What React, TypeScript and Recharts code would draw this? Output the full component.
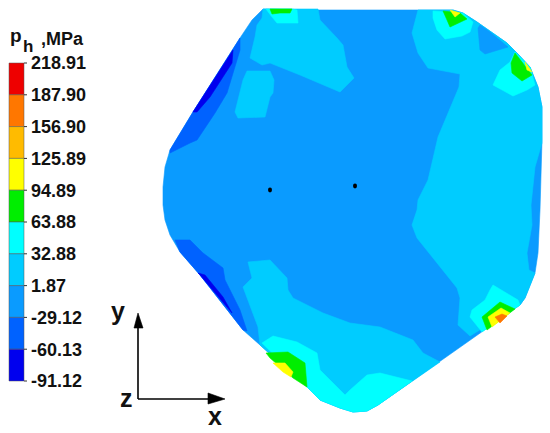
import React from "react";
import {
  Bar,
  BarChart,
  Cell,
  Scatter,
  ScatterChart,
  XAxis,
  YAxis,
} from "recharts";

type Pt = [number, number];

const WIDTH = 550;
const HEIGHT = 433;
const FONT = "Liberation Sans, Arial, sans-serif";

// colour bar
const levels = [218.91, 187.9, 156.9, 125.89, 94.89, 63.88, 32.88, 1.87, -29.12, -60.13, -91.12];
const bandColors = [
  "#ee0000", "#ff7700", "#ffbb00", "#ffff00", "#00ee00",
  "#00ffff", "#00ccff", "#0a9bff", "#0062ff", "#0000ee",
];
const bands = bandColors.map((_, i) => ({ x: 0.5, range: [levels[i + 1], levels[i]] }));

const ORANGE = bandColors[1];
const YELLOW = bandColors[3];
const GREEN = bandColors[4];
const CYAN = bandColors[5];
const SKY = bandColors[6];
const BASE = bandColors[7];
const BLUE = bandColors[8];
const NAVY = bandColors[9];

// contour regions
const outline: Pt[] = [
  [263, 9], [300, 10], [453, 10], [463, 13], [477, 22], [507, 43], [517, 53], [530, 67],
  [538, 87], [542, 107], [542, 140], [540, 210], [538, 253], [535, 273], [525, 298], [520, 305],
  [378, 405], [367, 411], [353, 412], [340, 408], [320, 400], [307, 387], [260, 345], [243, 330],
  [200, 275], [180, 252], [170, 235], [165, 220], [163, 205], [163, 187], [165, 167], [170, 150],
  [193, 112], [240, 38], [252, 20],
];
const skyTopLeft: Pt[] = [
  [263, 9], [318, 9], [320, 20], [337, 38], [343, 45], [347, 67], [354, 78], [340, 92],
  [300, 75], [270, 63], [262, 65], [250, 58], [255, 37], [257, 25], [262, 18],
];
const skyIsland: Pt[] = [
  [247, 71], [270, 71], [274, 80], [273, 93], [270, 97], [265, 117], [238, 118], [235, 112], [243, 80],
];
const skyRight: Pt[] = [
  [418, 10], [453, 10], [463, 13], [477, 22], [507, 43], [517, 53], [530, 67], [538, 87],
  [542, 107], [542, 143], [535, 167], [531, 205], [532, 225], [527, 253], [529, 270], [535, 273],
  [525, 298], [520, 305], [470, 336], [458, 325], [460, 298], [457, 288], [417, 238], [412, 225],
  [417, 210], [418, 200], [428, 180], [438, 137], [459, 87], [460, 74], [428, 68], [418, 53], [412, 33],
];
const baseNotch: Pt[] = [
  [478, 28], [480, 50], [485, 54], [508, 47], [490, 32], [480, 25],
];
const skyBottom: Pt[] = [
  [248, 262], [270, 260], [287, 278], [288, 290], [293, 298], [323, 313], [350, 323], [380, 327],
  [413, 340], [423, 353], [440, 362], [378, 405], [367, 411], [353, 412], [340, 408], [320, 400],
  [307, 387], [260, 345], [258, 327], [243, 287], [252, 278],
];
const blueUpper: Pt[] = [
  [240, 38], [240, 50], [227, 93], [215, 113], [197, 140], [190, 143], [170, 153], [170, 150], [193, 112],
];
const navyUpper: Pt[] = [
  [193, 112], [233, 50], [232, 63], [210, 97], [197, 112],
];
const blueLower: Pt[] = [
  [175, 240], [190, 240], [203, 253], [223, 268], [225, 280], [240, 310], [247, 331], [243, 330], [200, 275], [180, 252],
];
const navyLower: Pt[] = [
  [198, 273], [205, 275], [223, 297], [232, 313], [200, 275],
];
const cyanTop: Pt[] = [
  [266, 9], [292, 9], [297, 10], [298, 23], [277, 23], [272, 17],
];
const greenTop: Pt[] = [
  [270, 9], [292, 9], [290, 13], [280, 13], [272, 14],
];
const cyanTopRight: Pt[] = [
  [433, 11], [463, 13], [473, 22], [470, 32], [462, 36], [445, 39], [437, 30], [433, 18],
];
const greenTopRight: Pt[] = [
  [443, 11], [460, 13], [467, 19], [450, 27], [447, 20],
];
const yellowTopRight: Pt[] = [
  [450, 10], [460, 13], [455, 17],
];
const cyanCorner: Pt[] = [
  [515, 52], [530, 67], [535, 85], [527, 90], [513, 96], [493, 85], [500, 70], [510, 62],
];
const greenCorner: Pt[] = [
  [515, 53], [532, 75], [522, 81], [512, 73], [511, 63],
];
const yellowCorner: Pt[] = [
  [525, 62], [532, 72], [527, 70],
];
const cyanLowerRight: Pt[] = [
  [493, 285], [518, 300], [520, 305], [482, 332], [470, 317], [472, 310], [485, 300], [490, 290],
];
const greenLowerRight: Pt[] = [
  [482, 317], [500, 302], [515, 309], [487, 330],
];
const yellowLowerRight: Pt[] = [
  [488, 317], [501, 308], [510, 313], [492, 327],
];
const orangeLowerRight: Pt[] = [
  [495, 317], [502, 314], [507, 316], [500, 323],
];
const cyanBottom: Pt[] = [
  [262, 343], [273, 336], [297, 342], [317, 353], [320, 370], [345, 395], [350, 390], [367, 375],
  [380, 373], [412, 381], [378, 405], [367, 411], [353, 412], [340, 408], [320, 400], [307, 387],
];
const greenBottom: Pt[] = [
  [266, 353], [288, 352], [305, 363], [307, 387], [293, 378], [270, 358],
];
const yellowBottom: Pt[] = [
  [273, 363], [285, 363], [293, 372], [291, 377], [283, 372],
];
const holes: Pt[] = [[270, 190], [355, 186]];

// axis triad
const triadY: Pt[] = [[138, 399], [138, 320]];
const triadX: Pt[] = [[138, 399], [215, 399]];
const arrowY: Pt[] = [[138, 313], [143, 328], [134, 328]];
const arrowX: Pt[] = [[225, 399], [208, 393], [208, 404]];

const regions: [Pt[], string][] = [
  [outline, BASE],
  [skyRight, SKY],
  [skyTopLeft, SKY],
  [skyIsland, SKY],
  [skyBottom, SKY],
  [baseNotch, BASE],
  [blueUpper, BLUE],
  [navyUpper, NAVY],
  [blueLower, BLUE],
  [navyLower, NAVY],
  [cyanTop, CYAN],
  [greenTop, GREEN],
  [cyanTopRight, CYAN],
  [greenTopRight, GREEN],
  [yellowTopRight, YELLOW],
  [cyanCorner, CYAN],
  [greenCorner, GREEN],
  [yellowCorner, YELLOW],
  [cyanLowerRight, CYAN],
  [greenLowerRight, GREEN],
  [yellowLowerRight, YELLOW],
  [orangeLowerRight, ORANGE],
  [cyanBottom, CYAN],
  [greenBottom, GREEN],
  [yellowBottom, YELLOW],
  [arrowY, "#000"],
  [arrowX, "#000"],
];

const toData = (pts: Pt[]) => pts.map(([x, y]) => ({ x, y }));

const polygon = (fill: string) => (props: any) => (
  <polygon
    points={props.points.map((p: any) => `${p.x},${p.y}`).join(" ")}
    fill={fill}
    stroke={fill}
    strokeWidth={0.6}
    strokeLinejoin="round"
  />
);

const noMark = () => <g />;

const Label = ({ x, y, size = 18, children }: any) => (
  <div
    style={{
      position: "absolute",
      left: x,
      top: y,
      fontFamily: FONT,
      fontWeight: 700,
      fontSize: size,
      lineHeight: 1,
      color: "#111",
    }}
  >
    {children}
  </div>
);

export default function App() {
  return (
    <div style={{ position: "absolute", left: 0, top: 0, width: WIDTH, height: HEIGHT, background: "#fff", overflow: "hidden" }}>
      <div style={{ position: "absolute", left: 0, top: 0 }}>
        <ScatterChart width={WIDTH} height={HEIGHT} margin={{ top: 0, right: 0, bottom: 0, left: 0 }}>
          <XAxis type="number" dataKey="x" domain={[0, WIDTH]} hide />
          <YAxis type="number" dataKey="y" domain={[0, HEIGHT]} reversed hide />
          {regions.map(([pts, color], i) => (
            <Scatter
              key={i}
              data={toData(pts)}
              line={polygon(color)}
              shape={noMark}
              isAnimationActive={false}
            />
          ))}
          <Scatter
            data={toData(triadY)}
            line={{ stroke: "#000", strokeWidth: 1.6 }}
            shape={noMark}
            isAnimationActive={false}
          />
          <Scatter
            data={toData(triadX)}
            line={{ stroke: "#000", strokeWidth: 1.6 }}
            shape={noMark}
            isAnimationActive={false}
          />
          <Scatter
            data={toData(holes)}
            shape={(p: any) => <ellipse cx={p.cx} cy={p.cy} rx={2} ry={2.4} fill="#000" />}
            isAnimationActive={false}
          />
        </ScatterChart>
      </div>

      <div style={{ position: "absolute", left: 0, top: 53 }}>
        <BarChart
          width={100}
          height={338}
          data={bands}
          margin={{ top: 10, right: 0, bottom: 10, left: 8 }}
        >
          <XAxis type="number" dataKey="x" domain={[0, 1]} hide />
          <YAxis
            type="number"
            orientation="right"
            width={76}
            domain={[levels[10], levels[0]]}
            ticks={levels}
            interval={0}
            axisLine={false}
            tickSize={3}
            tickMargin={4}
            tickFormatter={(v: number) => (v === 187.9 || v === 156.9 ? v.toFixed(2) : String(v))}
            tick={{ fill: "#111", fontSize: 18, fontWeight: 700, fontFamily: FONT }}
            tickLine={{ stroke: "#333" }}
          />
          <Bar dataKey="range" barSize={15} stroke="#555" strokeWidth={0.5} isAnimationActive={false}>
            {bands.map((_, i) => (
              <Cell key={i} fill={bandColors[i]} />
            ))}
          </Bar>
        </BarChart>
      </div>

      <Label x={10} y={26} size={19}>p</Label>
      <Label x={23} y={38} size={17}>h</Label>
      <Label x={41} y={30} size={18}>,MPa</Label>
      <Label x={111} y={299} size={25}>y</Label>
      <Label x={120} y={386} size={25}>z</Label>
      <Label x={208} y={404} size={25}>x</Label>
    </div>
  );
}
